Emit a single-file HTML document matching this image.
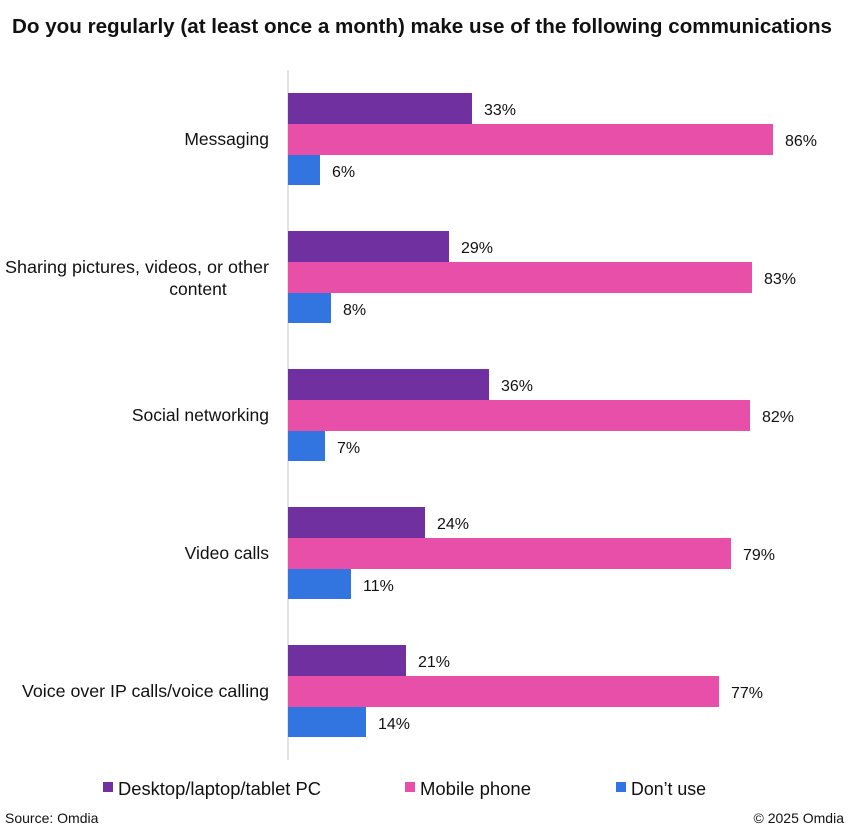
<!DOCTYPE html>
<html><head><meta charset="utf-8"><style>
body{margin:0;background:#fff;width:850px;height:830px;overflow:hidden}
text{font-family:"Liberation Sans",sans-serif;fill:#111}
</style></head><body>
<svg width="850" height="830" viewBox="0 0 850 830">
<text x="422" y="33" text-anchor="middle" font-size="20.5" font-weight="bold" textLength="820" lengthAdjust="spacingAndGlyphs">Do you regularly (at least once a month) make use of the following communications</text>
<line x1="288" y1="70" x2="288" y2="760" stroke="#d9d9d9" stroke-width="1.5"/>
<g font-size="16">
<g transform="translate(0,93)">
<rect x="288" y="0" width="184" height="31" fill="#7030A0"/><text x="484" y="22">33%</text>
<rect x="288" y="31" width="485" height="31" fill="#E84FA8"/><text x="785" y="53">86%</text>
<rect x="288" y="62" width="32" height="30" fill="#3274E0"/><text x="332" y="84">6%</text>
<text x="269" y="52" text-anchor="end" font-size="17.5">Messaging</text>
</g>
<g transform="translate(0,231)">
<rect x="288" y="0" width="161" height="31" fill="#7030A0"/><text x="461" y="22">29%</text>
<rect x="288" y="31" width="464" height="31" fill="#E84FA8"/><text x="764" y="53">83%</text>
<rect x="288" y="62" width="43" height="30" fill="#3274E0"/><text x="343" y="84">8%</text>
<text x="269" y="42" text-anchor="end" font-size="17.5" textLength="264" lengthAdjust="spacingAndGlyphs">Sharing pictures, videos, or other</text>
<text x="198" y="64" text-anchor="middle" font-size="17.5">content</text>
</g>
<g transform="translate(0,369)">
<rect x="288" y="0" width="201" height="31" fill="#7030A0"/><text x="501" y="22">36%</text>
<rect x="288" y="31" width="462" height="31" fill="#E84FA8"/><text x="762" y="53">82%</text>
<rect x="288" y="62" width="37" height="30" fill="#3274E0"/><text x="337" y="84">7%</text>
<text x="269" y="52" text-anchor="end" font-size="17.5">Social networking</text>
</g>
<g transform="translate(0,507)">
<rect x="288" y="0" width="137" height="31" fill="#7030A0"/><text x="437" y="22">24%</text>
<rect x="288" y="31" width="443" height="31" fill="#E84FA8"/><text x="743" y="53">79%</text>
<rect x="288" y="62" width="63" height="30" fill="#3274E0"/><text x="363" y="84">11%</text>
<text x="269" y="52" text-anchor="end" font-size="17.5">Video calls</text>
</g>
<g transform="translate(0,645)">
<rect x="288" y="0" width="118" height="31" fill="#7030A0"/><text x="418" y="22">21%</text>
<rect x="288" y="31" width="431" height="31" fill="#E84FA8"/><text x="731" y="53">77%</text>
<rect x="288" y="62" width="78" height="30" fill="#3274E0"/><text x="378" y="84">14%</text>
<text x="269" y="52" text-anchor="end" font-size="17.5" textLength="247" lengthAdjust="spacingAndGlyphs">Voice over IP calls/voice calling</text>
</g>
<g font-size="18">
<rect x="103" y="782" width="10" height="10" fill="#7030A0"/><text x="118" y="795" textLength="203" lengthAdjust="spacingAndGlyphs">Desktop/laptop/tablet PC</text>
<rect x="405" y="782" width="10" height="10" fill="#E84FA8"/><text x="420" y="795" textLength="111" lengthAdjust="spacingAndGlyphs">Mobile phone</text>
<rect x="616" y="782" width="10" height="10" fill="#3274E0"/><text x="631" y="795" textLength="75" lengthAdjust="spacingAndGlyphs">Don’t use</text>
</g>
</g>
<text x="5" y="823" font-size="14">Source: Omdia</text>
<text x="844" y="823" font-size="14" text-anchor="end">© 2025 Omdia</text>
</svg>
</body></html>
